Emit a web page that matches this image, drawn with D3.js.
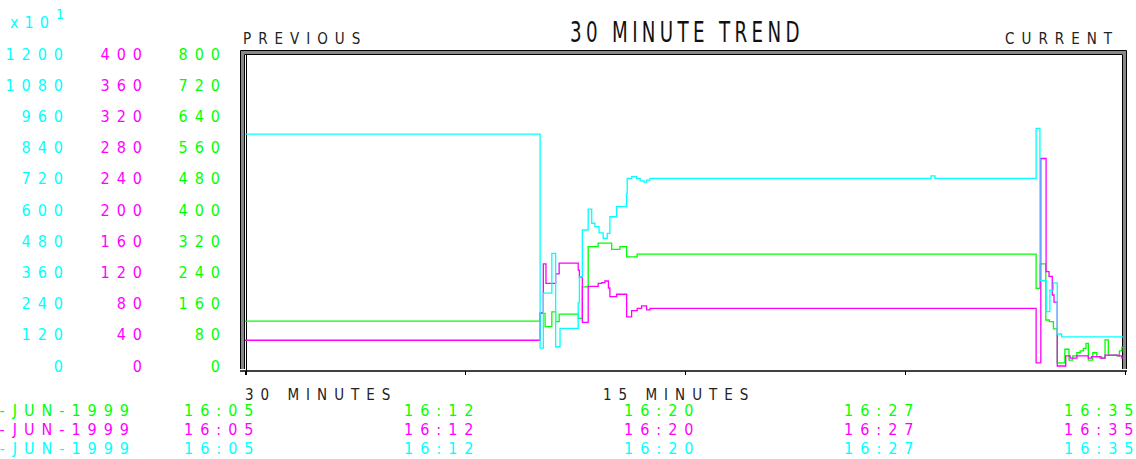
<!DOCTYPE html>
<html lang="en">
<head>
<meta charset="utf-8">
<script src="https://d3js.org/d3.v7.min.js"></script>
<style type="text/css">
body {
	margin: 0;
	background-color: #fff;
}
svg text {
	font-family: "Liberation Sans Narrow", "DejaVu Sans Condensed", "Liberation Sans", sans-serif;
}
.num {
	font-size: 16px;
	letter-spacing: 7px;
}
.word {
	font-size: 15px;
	letter-spacing: 7px;
	fill: #222;
}
.axis path { display: none; }
.axis line { stroke: #000; }
</style>
</head>
<body>
<div class="chart"></div>
<script type="text/javascript">
var cyanColor = '#00ffff';
var magColor = '#ff00ff';
var greenColor = '#00ff00';

// [minutes after 16:05, value] (step data)
var cyanTrend = [
	[0, 892], [10.06, 69], [10.17, 280], [10.46, 433], [10.59, 74], [10.74, 145],
	[11.36, 243], [11.40, 343], [11.50, 523], [11.70, 603], [11.82, 549], [11.93, 536],
	[12.07, 512], [12.21, 491], [12.35, 510], [12.44, 574], [12.67, 613], [13.01, 664],
	[13.03, 722], [13.18, 728], [13.35, 722], [13.47, 712], [13.60, 707], [13.69, 715],
	[13.81, 722], [23.39, 731], [23.52, 722], [26.97, 914], [27.10, 328], [27.31, 209],
	[27.44, 292], [27.56, 320], [27.69, 123], [27.84, 112], [29.93, 112]
];
var magTrend = [
	[0, 33], [10.06, 68], [10.17, 131], [10.26, 106], [10.59, 118], [10.71, 132],
	[11.36, 123], [11.40, 114], [11.50, 56], [11.70, 102], [12.04, 106], [12.16, 107],
	[12.27, 109], [12.39, 100], [12.44, 89], [12.67, 92], [13.01, 63], [13.18, 71],
	[13.37, 74], [13.52, 77], [13.69, 72], [13.81, 74], [26.97, 4], [27.13, 266],
	[27.31, 121], [27.41, 115], [27.52, 91], [27.58, 82], [27.69, 0], [27.98, 13],
	[28.13, 10], [28.36, 13], [28.75, 10], [28.86, 12], [29.15, 10], [29.32, 14],
	[29.77, 13], [29.89, 10], [29.93, 10]
];
var greenTrend = [
	[0, 115], [10.06, 135], [10.23, 101], [10.46, 139], [10.59, 114], [10.71, 133],
	[11.36, 122], [11.50, 203], [11.70, 306], [12.04, 315], [12.50, 299], [12.78, 306],
	[13.01, 280], [13.37, 287], [26.97, 199], [27.10, 262], [27.30, 118], [27.42, 114],
	[27.56, 95], [27.69, 8], [27.95, 43], [28.09, 15], [28.22, 26], [28.36, 34],
	[28.47, 39], [28.58, 45], [28.67, 58], [28.75, 15], [28.90, 34], [29.04, 24],
	[29.20, 20], [29.32, 67], [29.43, 28], [29.72, 26], [29.81, 39], [29.89, 48],
	[29.93, 48]
];

var cyanTicks = [0, 120, 240, 360, 480, 600, 720, 840, 960, 1080, 1200];
var magTicks = [0, 40, 80, 120, 160, 200, 240, 280, 320, 360, 400];
var greenTicks = [0, 80, 160, 240, 320, 400, 480, 560, 640, 720, 800];
var timeTicks = [0, 7.5, 15, 22.5, 30];
var timeLabels = ['16:05', '16:12', '16:20', '16:27', '16:35'];
var dateLabel = '17-JUN-1999';

var width = 1136, height = 459;
var ls = 7; // letter spacing of the number labels

var svg = d3.select(".chart").append("svg")
	.attr("width", width)
	.attr("height", height)
	.style("display", "block");

var x = d3.scaleLinear().domain([0, 30]).range([245, 1125]);
var yC = d3.scaleLinear().domain([0, 1200]).range([366, 54]);
var yM = d3.scaleLinear().domain([0, 400]).range([366, 54]);
var yG = d3.scaleLinear().domain([0, 800]).range([366, 54]);

// left value columns
function valueAxis(scale, ticks, right, color) {
	var g = svg.append("g")
		.attr("class", "axis num")
		.attr("transform", "translate(" + (right + ls) + ",0)")
		.call(d3.axisLeft(scale).tickValues(ticks).tickSize(0).tickPadding(0).tickFormat(d3.format("d")));
	g.selectAll("text").style("fill", color).style("font-family", null);
}
valueAxis(yC, cyanTicks, 63, cyanColor);
valueAxis(yM, magTicks, 142, magColor);
valueAxis(yG, greenTicks, 220, greenColor);

svg.append("text").attr("x", 10).attr("y", 28)
	.attr("class", "num").style("fill", cyanColor).style("letter-spacing", "6px")
	.text("x10");
svg.append("text").attr("x", 56).attr("y", 19)
	.attr("class", "num").style("fill", cyanColor).style("font-size", "14px")
	.text("1");

// frame
svg.append("path")
	.attr("d", "M242.5,369V52.5H1124.5V369")
	.style("fill", "none").style("stroke", "#888").style("stroke-width", 3);
svg.append("path")
	.attr("d", "M240.5,369V50.5H1126.5V369")
	.style("fill", "none").style("stroke", "#000").style("stroke-width", 1);
svg.append("path")
	.attr("d", "M244.5,369V54.5H1122.5V369")
	.style("fill", "none").style("stroke", "#000").style("stroke-width", 1);
svg.append("line")
	.attr("x1", 246.5).attr("x2", 246.5).attr("y1", 55).attr("y2", 375)
	.style("stroke", "#000");

// time axis
svg.append("g")
	.attr("class", "axis")
	.attr("transform", "translate(0,371)")
	.call(d3.axisBottom(x).tickValues(timeTicks).tickSize(4).tickFormat(""));
svg.append("line")
	.attr("x1", 240).attr("x2", 1127).attr("y1", 371).attr("y2", 371)
	.style("stroke", "#000").style("stroke-width", 1.5);

// trend lines
var step = function(ys) {
	return d3.line().curve(d3.curveStepAfter)
		.x(function(d) { return x(d[0]); })
		.y(function(d) { return ys(d[1]); });
};
var series = [
	{ data: greenTrend, y: yG, color: greenColor },
	{ data: magTrend, y: yM, color: magColor },
	{ data: cyanTrend, y: yC, color: cyanColor }
];
svg.append("g").selectAll("path")
	.data(series)
	.enter().append("path")
	.attr("d", function(s) { return step(s.y)(s.data); })
	.style("fill", "none")
	.style("stroke", function(s) { return s.color; })
	.style("stroke-width", 1.3);

// headings
svg.append("text")
	.attr("transform", "translate(570,42) scale(0.7,1)")
	.style("font-size", "29px").style("letter-spacing", "6.2px").style("fill", "#111")
	.text("30 MINUTE TREND");
svg.append("text").attr("class", "word").attr("x", 243).attr("y", 44).text("PREVIOUS");
svg.append("text").attr("class", "word").attr("x", 1112 + 7).attr("y", 44)
	.attr("text-anchor", "end").text("CURRENT");
svg.append("text").attr("class", "word").attr("x", 245).attr("y", 400).text("30 MINUTES");
svg.append("text").attr("class", "word").attr("x", 603).attr("y", 400).text("15 MINUTES");

// date / time rows
var rows = [
	{ y: 416, color: greenColor },
	{ y: 435, color: magColor },
	{ y: 454, color: cyanColor }
];
rows.forEach(function(r) {
	svg.append("text").attr("class", "num")
		.attr("x", 129 + ls).attr("y", r.y).attr("text-anchor", "end")
		.style("fill", r.color).text(dateLabel);
	var g = svg.append("g")
		.attr("class", "axis num")
		.attr("transform", "translate(0," + r.y + ")")
		.call(d3.axisBottom(x).tickValues(timeTicks).tickSize(0).tickPadding(0)
			.tickFormat(function(d, i) { return timeLabels[i]; }));
	g.selectAll("text")
		.attr("dy", 0).attr("y", 0)
		.attr("text-anchor", "end").attr("x", 8 + ls)
		.style("fill", r.color).style("font-family", null);
});
</script>
</body>
</html>
